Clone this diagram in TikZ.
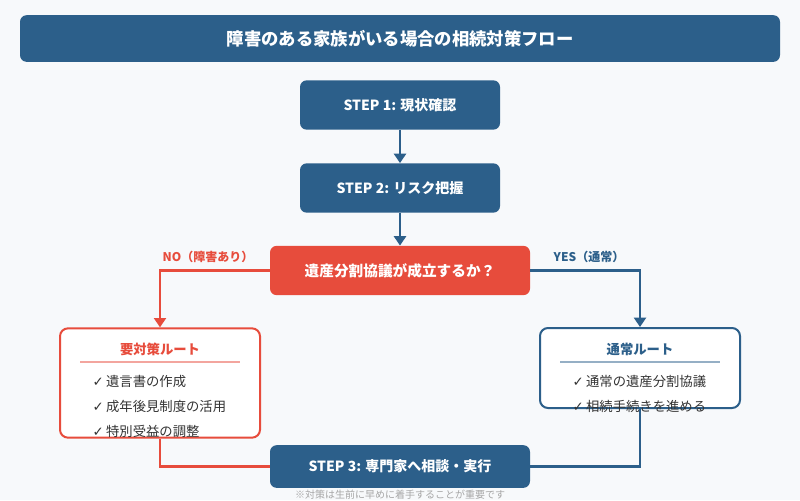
\documentclass[tikz,border=0pt]{standalone}
\usepackage{fontspec}
\setmainfont{Noto Sans CJK JP}
\newfontfamily\chk{DejaVu Sans}
\usetikzlibrary{arrows.meta}
\begin{document}
\definecolor{bg}{HTML}{F7F9FB}
\definecolor{navy}{HTML}{2C5F8A}
\definecolor{red}{HTML}{E74C3C}
\definecolor{txt}{HTML}{333333}
\begin{tikzpicture}[x=0.75pt,y=-0.75pt,
 box/.style={rounded corners=5pt,fill=navy,text=white,font=\bfseries\fontsize{10.5}{12}\selectfont},
 ln/.style={line width=1.6pt},
 arr/.style={-{Triangle[length=7pt,width=9pt]}},
 item/.style={anchor=west,text=txt,font=\fontsize{10}{11}\selectfont}]
\fill[bg] (0,0) rectangle (800,500);
\useasboundingbox (0,0) rectangle (800,500);
\node[box,minimum width=570pt,minimum height=35pt,font=\bfseries\fontsize{13}{15}\selectfont] (title) at (400,38.5) {障害のある家族がいる場合の相続対策フロー};
\node[box,minimum width=150pt,minimum height=37pt] (s1) at (400,105) {STEP 1: 現状確認};
\node[box,minimum width=150pt,minimum height=37pt] (s2) at (400,188) {STEP 2: リスク把握};
\node[box,fill=red,minimum width=195pt,minimum height=37pt,font=\bfseries\fontsize{11}{12}\selectfont] (d) at (400,270.5) {遺産分割協議が成立するか？};
\node[box,minimum width=195pt,minimum height=32pt] (s3) at (400,466.5) {STEP 3: 専門家へ相談・実行};
\node[draw=red,line width=1.5pt,fill=white,rounded corners=6pt,minimum width=150pt,minimum height=82pt] (L) at (160,383) {};
\node[draw=navy,line width=1.5pt,fill=white,rounded corners=6pt,minimum width=150pt,minimum height=60pt] (R) at (640,368) {};
\node[text=red,font=\bfseries\fontsize{10}{11}\selectfont] (lh) at (160,349) {要対策ルート};
\draw[red!50,line width=1pt] (80,362) -- (240,362);
\node[text=navy,font=\bfseries\fontsize{10}{11}\selectfont] (rh) at (640,349) {通常ルート};
\node[item] (l1) at (88,381) {{\chk ✓}\,遺言書の作成};
\node[item] (l2) at (88,406) {{\chk ✓}\,成年後見制度の活用};
\node[item] (l3) at (88,431) {{\chk ✓}\,特別受益の調整};
\draw[navy!50,line width=1pt] (560,362) -- (720,362);
\node[item] (r1) at (568,381) {{\chk ✓}\,通常の遺産分割協議};
\node[item] (r2) at (568,406) {{\chk ✓}\,相続手続きを進める};
\draw[ln,navy,arr] (s1) -- (s2);
\draw[ln,navy,arr] (s2) -- (d);
\draw[ln,red,arr] (d.west) -| (L.north);
\draw[ln,navy,arr] (d.east) -| (R.north);
\draw[ln,red] (L.south) |- (s3.west);
\draw[ln,navy] (R.south) |- (s3.east);
\node[text=red,font=\bfseries\fontsize{9}{10}\selectfont] (no) at (208,257) {NO（障害あり）};
\node[text=navy,font=\bfseries\fontsize{9}{10}\selectfont] (yes) at (589,257) {YES（通常）};
\node[text=gray!70,font=\fontsize{7.5}{8}\selectfont] (fn) at (400,495) {※対策は生前に早めに着手することが重要です};
\end{tikzpicture}
\end{document}
